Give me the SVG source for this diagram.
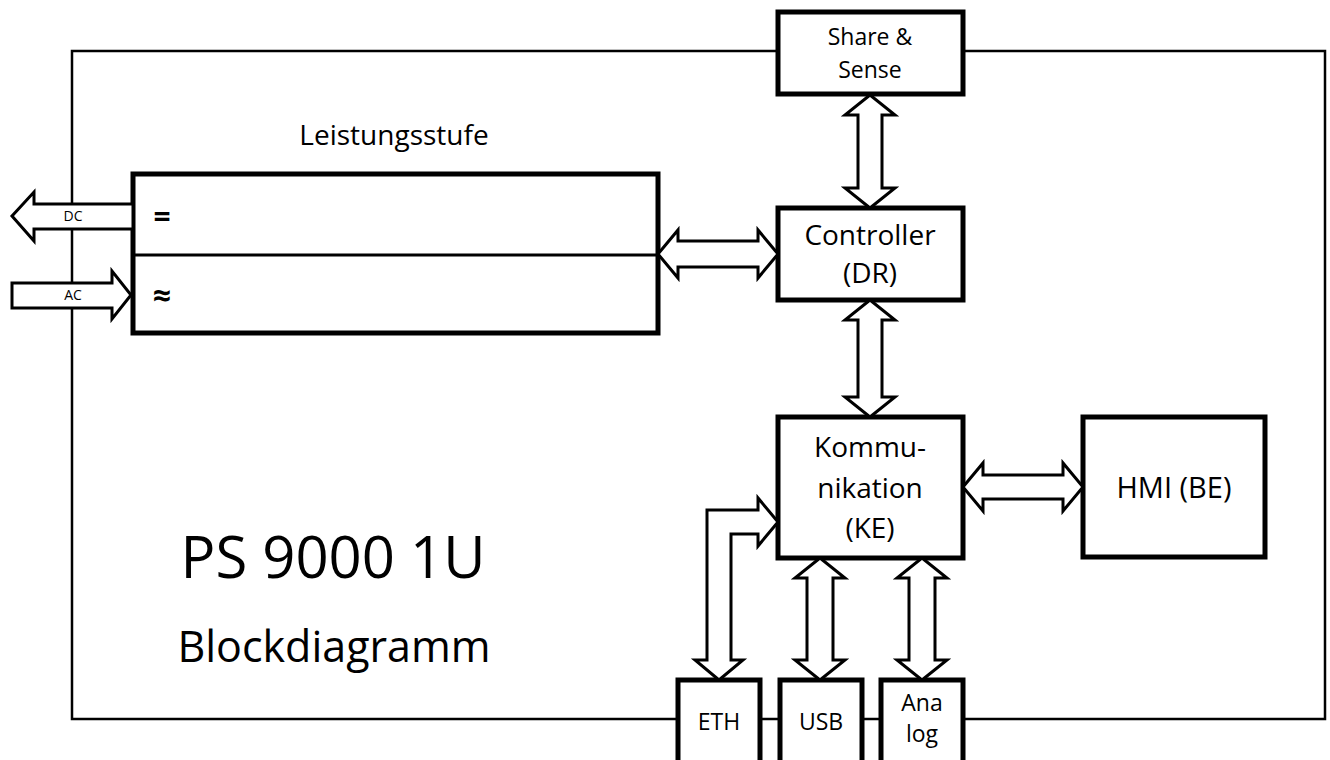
<svg xmlns="http://www.w3.org/2000/svg" width="1330" height="760" viewBox="0 0 1330 760">
<style>
.frame{fill:none;stroke:#000;stroke-width:2.5}
.box{fill:#fff;stroke:#000;stroke-width:5}
.arr{fill:#fff;stroke:#000;stroke-width:3;stroke-linejoin:miter}
.t{font-family:"Open Sans","Noto Sans","DejaVu Sans",sans-serif;fill:#000;text-anchor:middle}
</style>
<rect width="1330" height="760" fill="#fff"/>
<g id="frame"><rect class="frame" x="72" y="51" width="1253" height="668"/></g>
<g id="leistungsstufe">
<rect class="box" x="133" y="174" width="525" height="159"/>
<line x1="133" y1="255" x2="658" y2="255" stroke="#000" stroke-width="3"/>
<text class="t" x="394" y="145" font-size="28">Leistungsstufe</text>
<text class="t" x="162" y="227" font-size="30" font-weight="bold">=</text>
<text class="t" x="162" y="307" font-size="32" font-weight="bold">≈</text>
</g>
<g id="share-sense">
<rect class="box" x="778" y="12" width="185" height="82"/>
<text class="t" x="870" y="45" font-size="23">Share &amp;</text>
<text class="t" x="870" y="78" font-size="23">Sense</text>
</g>
<g id="controller">
<rect class="box" x="778" y="208" width="185" height="92"/>
<text class="t" x="870" y="245" font-size="28">Controller</text>
<text class="t" x="870" y="283" font-size="28">(DR)</text>
</g>
<g id="kommunikation">
<rect class="box" x="778" y="417" width="185" height="141"/>
<text class="t" x="870" y="457" font-size="28">Kommu-</text>
<text class="t" x="870" y="498" font-size="28">nikation</text>
<text class="t" x="870" y="538" font-size="28">(KE)</text>
</g>
<g id="hmi">
<rect class="box" x="1083" y="417" width="182" height="140"/>
<text class="t" x="1174" y="498" font-size="29">HMI (BE)</text>
</g>
<g id="eth">
<rect class="box" x="678" y="680" width="82" height="90"/>
<text class="t" x="719" y="730" font-size="23">ETH</text>
</g>
<g id="usb">
<rect class="box" x="780" y="680" width="82" height="90"/>
<text class="t" x="821" y="730" font-size="23">USB</text>
</g>
<g id="analog">
<rect class="box" x="881" y="680" width="82" height="90"/>
<text class="t" x="922" y="711" font-size="23">Ana</text>
<text class="t" x="922" y="742" font-size="23">log</text>
</g>
<g id="title">
<text class="t" x="333" y="578" font-size="58">PS 9000 1U</text>
<text class="t" x="334" y="662" font-size="43">Blockdiagramm</text>
</g>
<g id="connectors">
<polygon class="arr" points="12,216 34,192 34,204 133,204 133,229 34,229 34,241"/>
<text class="t" x="73" y="221" font-size="14">DC</text>
<polygon class="arr" points="12,283 112,283 112,271 131,295 112,319 112,308 12,308"/>
<text class="t" x="73" y="300" font-size="14">AC</text>
<polygon class="arr" points="870,95 895,115 882,115 882,188 895,188 870,208 845,188 858,188 858,115 845,115"/>
<polygon class="arr" points="870,300 895,320 882,320 882,397 895,397 870,417 845,397 858,397 858,320 845,320"/>
<polygon class="arr" points="658,254 678,230 678,241 758,241 758,230 778,254 758,278 758,267 678,267 678,278"/>
<polygon class="arr" points="963,487 983,463 983,475 1063,475 1063,463 1083,487 1063,511 1063,499 983,499 983,511"/>
<polygon class="arr" points="820,558 845,578 833,578 833,660 845,660 820,680 795,660 807,660 807,578 795,578"/>
<polygon class="arr" points="922,558 947,578 935,578 935,660 947,660 922,680 897,660 909,660 909,578 897,578"/>
<polygon class="arr" points="778,522 758,546 758,534 731,534 731,660 743,660 719,680 695,660 707,660 707,510 758,510 758,498"/>
</g>
</svg>
